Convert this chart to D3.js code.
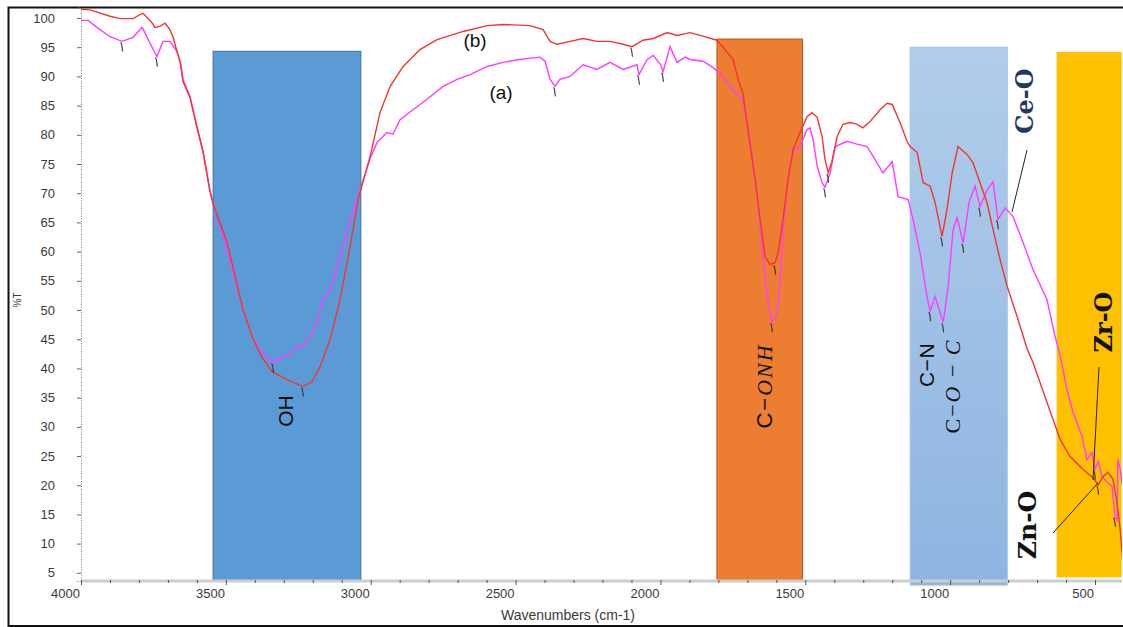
<!DOCTYPE html>
<html>
<head>
<meta charset="utf-8">
<script src="https://cdn.jsdelivr.net/npm/d3@7"></script>
<style>
  body { margin: 0; background: #fff; }
  text { font-family: "Liberation Sans", Arial, sans-serif; }
</style>
</head>
<body>
<div id="chart"></div>
<script>
// spectrum (b) - red
var wnB = [4000,3969,3900,3865,3820,3796,3786,3755,3745,3727,3710,3693,3682,3669,3658,3648,3624,3600,3579,3555,3544,
  3496,3441,3406,3375,3341,3289,3234,3203,3175,3140,3106,3071,3044,3002,2968,2933,2888,2830,2771,2681,2598,2543,2450,
  2405,2381,2357,2312,2267,2219,2174,2129,2098,2060,2025,1977,1943,1898,1853,1805,1784,1749,1732,1715,1698,1673,1656,
  1639,1622,1604,1594,1577,1560,1542,1518,1494,1477,1459,1442,1432,1421,1408,1390,1370,1345,1321,1301,1276,1242,1218,
  1200,1173,1149,1138,1114,1093,1069,1052,1028,1011,993,973,941,921,897,873,852,828,803,769,734,714,666,620,586,541,
  507,489,472,455,438,424,413,406,402];
var tB = [101.5,101.4,100.3,99.9,99.9,100.6,100.8,99.2,98.4,98.6,99.1,98.0,96.7,94.3,92.6,89.1,86.4,81.3,77.1,70.3,68.1,
  61.6,50.1,45.0,41.9,39.5,38.1,36.9,37.7,40.3,45.0,51.8,60.9,68.9,76.3,83.8,88.3,91.7,94.6,96.3,97.7,98.7,98.9,98.7,
  98.0,96.0,95.5,96.0,96.5,96.0,96.0,95.5,95.1,96.2,96.5,97.5,97.0,97.5,96.9,96.2,95.0,92.9,89.5,87.0,80.9,72.3,65.5,
  59.2,57.8,58.1,59.8,65.5,72.3,77.5,80.4,83.1,83.8,83.0,79.7,75.8,73.5,75.5,79.7,81.8,82.1,81.8,81.2,82.3,84.3,85.4,
  85.2,82.1,78.9,78.0,77.0,71.8,71.2,68.4,62.6,67.2,73.5,78.0,76.6,75.2,71.8,68.4,63.8,58.7,54.0,48.9,43.3,41.0,34.2,27.8,24.9,22.7,
  21.3,20.1,21.5,22.2,21.0,17.0,12.4,8.0,4.5];

// spectrum (a) - magenta
var wnA = [4000,3976,3945,3900,3858,3820,3789,3751,3738,3717,3693,3669,3655,3648,3624,3600,3579,3555,3544,3496,3441,
  3406,3375,3337,3303,3279,3255,3234,3210,3186,3165,3140,3106,3071,3047,3002,2978,2944,2923,2899,2854,2806,2750,2702,
  2657,2598,2543,2485,2416,2398,2381,2364,2347,2312,2267,2219,2174,2129,2081,2074,2046,2025,1999,1991,1967,1943,1915,
  1898,1853,1818,1784,1749,1715,1691,1666,1649,1632,1615,1597,1587,1577,1560,1542,1518,1494,1484,1473,1459,1442,1432,
  1414,1397,1356,1321,1287,1266,1232,1200,1180,1145,1128,1104,1080,1069,1052,1024,1007,990,976,955,935,914,897,873,852,
  835,810,783,748,714,666,638,620,597,576,545,528,510,500,489,476,458,441,431,424,421,413,406];
var tA = [99.6,99.6,98.4,96.8,96.0,96.7,98.4,94.6,93.4,96.0,96.0,94.3,92.0,89.5,86.6,81.5,77.3,70.5,68.3,60.3,50.1,
  45.0,42.7,41.0,42.0,42.4,43.8,43.8,45.5,47.8,51.8,53.5,59.2,65.5,68.9,76.0,78.7,80.4,80.1,82.6,84.3,86.1,88.3,89.5,
  90.3,91.7,92.4,92.9,93.3,92.6,89.5,88.3,89.5,90.0,92.0,91.2,92.4,91.2,92.0,90.3,92.9,93.6,92.0,90.8,95.1,92.4,93.3,
  92.9,92.6,91.5,90.0,87.6,86.0,79.0,69.4,60.9,52.3,47.9,49.5,55.2,63.8,72.3,77.2,78.0,80.9,81.2,79.2,74.6,71.8,71.0,
  73.5,78.0,78.9,78.4,78.0,76.3,73.5,75.4,69.4,68.9,65.5,59.8,52.3,49.8,52.3,47.9,54.0,63.8,65.8,61.5,68.4,71.2,67.7,70.5,72.0,
  65.5,67.5,66.0,61.5,56.9,51.8,45.5,42.1,36.4,32.5,28.4,24.4,25.6,22.7,24.1,21.5,20.5,19.8,14.6,14.0,24.4,22.7,20.0];

// peak markers [wavenumber, %T]
var peaksA = [[3858,96.0],[3738,93.4],[3337,41.0],[2364,88.3],[2074,90.3],[1991,90.8],[1615,47.9],[1432,71.0],
  [1069,49.8],[1024,47.9],[955,61.5],[897,67.7],[835,65.5],[500,22.7],[431,14.6]];
var peaksB = [[3234,36.9],[2098,95.1],[1604,57.8],[1421,73.5],[1028,62.6],[489,20.1]];

// shaded regions
var bandFrom = [3544, 1805, 1138, 631];
var bandTo   = [3034, 1510, 803, 410];
var bandTop  = [94.3, 96.4, 95.0, 94.1];
var bandBot  = [3.6, 3.6, 2.9, 4.3];

var xTicks = [4000, 3500, 3000, 2500, 2000, 1500, 1000, 500];
var yTicks = d3.range(5, 101, 5);

var W = 1123, H = 627;
var x = d3.scaleLinear().domain([4000, 400]).range([81, 1124]);
var y = d3.scaleLinear().domain([3.6, 101.8]).range([581, 7.5]);

var svg = d3.select("#chart").append("svg").attr("width", W).attr("height", H);

var defs = svg.append("defs");
var grad = defs.append("linearGradient").attr("id", "lb").attr("x1", 0).attr("y1", 0).attr("x2", 0).attr("y2", 1);
grad.append("stop").attr("offset", "0%").attr("stop-color", "#b2cdea");
grad.append("stop").attr("offset", "100%").attr("stop-color", "#8db4e2");
defs.append("clipPath").attr("id", "plot").append("rect")
  .attr("x", 81).attr("y", 8).attr("width", 1041).attr("height", 575);

// outer frame
svg.append("path").attr("d", "M1124,7.5 H8.5 V626 H1124")
  .attr("fill", "none").attr("stroke", "#111").attr("stroke-width", 2);

// bands
var bandFill = ["#5b9bd5", "#ed7d31", "url(#lb)", "#ffc000"];
var bandStroke = ["#41719c", "#ae5a21", "#9dc3e6", "#ffc000"];
svg.selectAll(".band").data(bandFrom).enter().append("rect")
  .attr("class", "band")
  .attr("x", (d, i) => x(bandFrom[i]))
  .attr("y", (d, i) => y(bandTop[i]))
  .attr("width", (d, i) => x(bandTo[i]) - x(bandFrom[i]))
  .attr("height", (d, i) => y(bandBot[i]) - y(bandTop[i]))
  .attr("fill", (d, i) => bandFill[i])
  .attr("stroke", (d, i) => bandStroke[i])
  .attr("stroke-width", 1);

// x axis
svg.append("line").attr("x1", 81).attr("x2", 1122).attr("y1", y(3.6)).attr("y2", y(3.6))
  .attr("stroke", "#cdcdcd").attr("stroke-width", 3);
var xAxis = svg.append("g").attr("transform", `translate(0,${y(3.6) - 1})`)
  .call(d3.axisBottom(x).tickValues(d3.range(4000, 399, -100)).tickSize(3).tickFormat(""));
xAxis.select(".domain").remove();
xAxis.selectAll("line").attr("stroke", "#555")
  .attr("y2", d => d % 500 === 0 ? 5 : 3);
svg.selectAll(".xlab").data(xTicks).enter().append("text")
  .attr("x", d => x(d) - 1).attr("y", 598)
  .attr("text-anchor", "end").attr("font-size", 13).attr("fill", "#3a3a3a")
  .text(d => d);

// y axis
var yAxis = svg.append("g").attr("transform", "translate(81,0)")
  .call(d3.axisLeft(y).tickValues(yTicks).tickSize(4).tickFormat(""));
yAxis.select(".domain").attr("stroke", "#777").attr("stroke-dasharray", "1,1.6");
yAxis.selectAll("line").attr("stroke", "#666");
svg.selectAll(".ylab").data(yTicks).enter().append("text")
  .attr("x", 55).attr("y", d => y(d)).attr("dy", "0.35em")
  .attr("text-anchor", "end").attr("font-size", 13).attr("fill", "#3a3a3a")
  .text(d => d);

// axis titles
svg.append("text").attr("x", 568).attr("y", 620).attr("text-anchor", "middle")
  .attr("font-size", 14).attr("fill", "#3a3a3a").text("Wavenumbers (cm-1)");
svg.append("text").attr("transform", "translate(21,300) rotate(-90)").attr("text-anchor", "middle")
  .attr("font-size", 10).attr("fill", "#3a3a3a").text("%T");

// spectra
var line = d3.line().x(d => x(d[0])).y(d => y(d[1]));
var plot = svg.append("g").attr("clip-path", "url(#plot)");
plot.append("path").datum(d3.zip(wnA, tA)).attr("d", line)
  .attr("fill", "none").attr("stroke", "#ff3cff").attr("stroke-width", 1.4);
plot.append("path").datum(d3.zip(wnB, tB)).attr("d", line)
  .attr("fill", "none").attr("stroke", "#f23434").attr("stroke-width", 1.4);

// peak marks
function mark(d) {
  var px = x(d[0]), py = y(d[1]);
  return `M${px - 1.5},${py + 1} C${px + 0.5},${py + 3} ${px - 0.5},${py + 7} ${px + 0.5},${py + 10}`;
}
plot.selectAll(".pk").data(peaksA.concat(peaksB)).enter().append("path")
  .attr("d", mark).attr("fill", "none").attr("stroke", "#333").attr("stroke-width", 1.1);

// labels
svg.append("text").attr("x", 475).attr("y", 47).attr("text-anchor", "middle")
  .attr("font-size", 19).attr("fill", "#111").text("(b)");
svg.append("text").attr("x", 501).attr("y", 99).attr("text-anchor", "middle")
  .attr("font-size", 19).attr("fill", "#111").text("(a)");

function vlabel(cx, cy, size, parts, opts) {
  var t = svg.append("text").attr("transform", `translate(${cx},${cy}) rotate(-90)`)
    .attr("text-anchor", "middle").attr("dy", "0.35em").attr("font-size", size)
    .attr("fill", opts && opts.fill || "#111")
    .attr("letter-spacing", opts && opts.ls || null);
  parts.forEach(p => {
    t.append("tspan").text(p[0])
      .attr("font-family", p[1] || null)
      .attr("font-style", p[2] || null)
      .attr("font-weight", p[3] || null);
  });
  return t;
}
var serif = "'Liberation Serif', 'DejaVu Serif', serif";
var bold = "'DejaVu Serif', serif";
vlabel(286, 411, 21, [["OH"]]);
vlabel(764, 386, 22, [["C\u2212"], ["ONH", serif, "italic"]], { ls: 2 });
vlabel(927, 365, 21, [["C\u2212N"]], { ls: 0.5 });
vlabel(952, 386, 22, [["C\u2212", serif], ["O", serif, "italic"], [" \u2212 ", serif], ["C", serif, "italic"]], { ls: 2 });
vlabel(1025, 101, 24, [["Ce-O", bold, null, "bold"]], { fill: "#1f3864" });
vlabel(1027, 525, 25, [["Zn-O", bold, null, "bold"]]);
vlabel(1104, 322, 24, [["Zr-O", bold, null, "bold"]]);

// leader lines
var leaders = [[1027, 150, 1012, 212], [1099, 367, 1093, 480], [1053, 533, 1098, 483]];
svg.selectAll(".lead").data(leaders).enter().append("line")
  .attr("x1", d => d[0]).attr("y1", d => d[1]).attr("x2", d => d[2]).attr("y2", d => d[3])
  .attr("stroke", "#222").attr("stroke-width", 1);
</script>
</body>
</html>
